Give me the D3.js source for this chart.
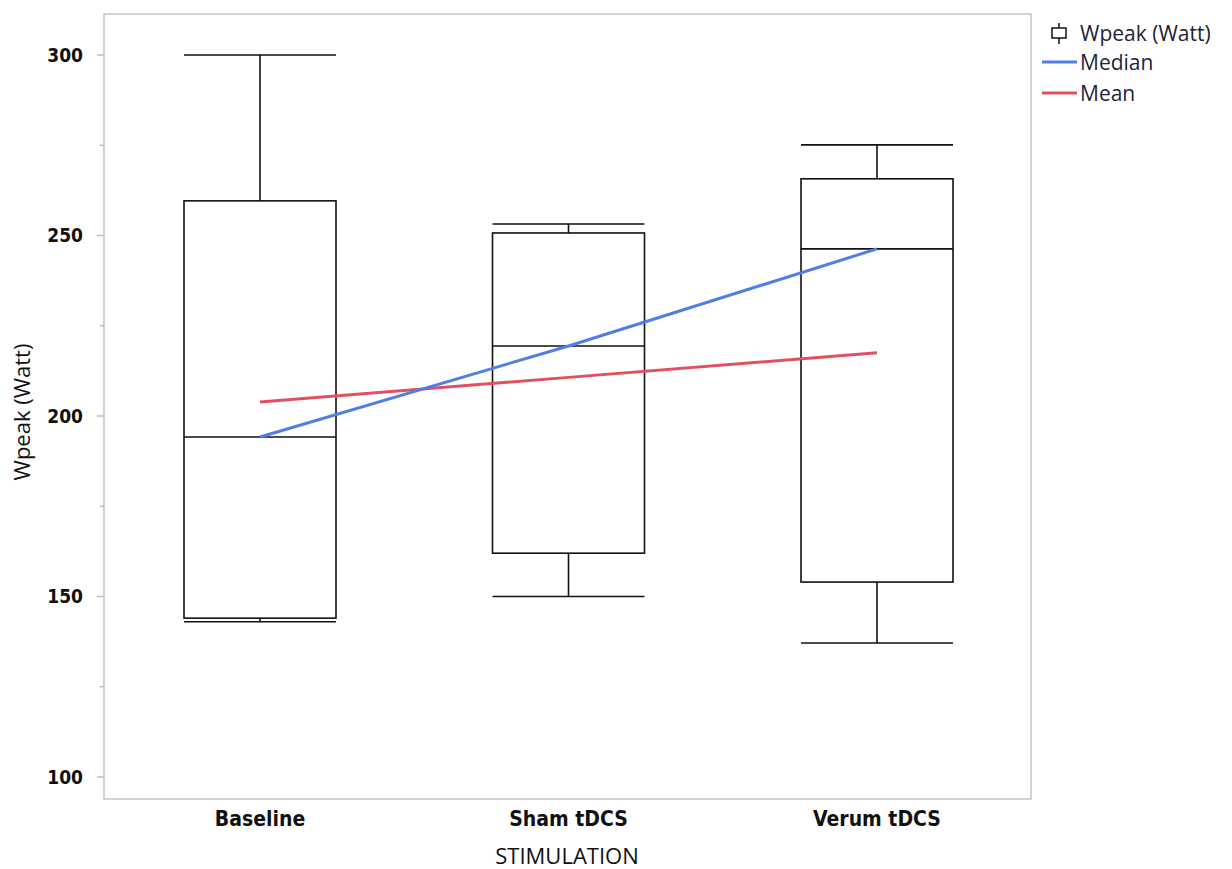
<!DOCTYPE html>
<html><head><meta charset="utf-8">
<script src="https://cdn.jsdelivr.net/npm/d3@7"></script>
<style>body{margin:0;background:#fff}svg{display:block}</style>
</head><body>
<svg id="c" width="1232" height="869"></svg>
<script>
const categories = ["Baseline", "Sham tDCS", "Verum tDCS"];
const whiskerLow  = [143.0, 150.0, 137.1];
const q1          = [144.0, 162.0, 154.0];
const medians     = [194.2, 219.4, 246.3];
const q3          = [259.6, 250.7, 265.7];
const whiskerHigh = [300.0, 253.2, 275.1];
const means       = [203.9, 210.7, 217.5];
const majorTicks  = [100, 150, 200, 250, 300];
const minorTicks  = [125, 175, 225, 275];

const svg = d3.select("#c");
const L = 104, R = 1031, T = 14, B = 799;
const y = d3.scaleLinear().domain([100, 300]).range([777, 55]);
const x = d3.scalePoint().domain(categories).range([260, 877]);
const halfW = 76;
const sans = "'Open Sans', 'Noto Sans', sans-serif";
const cond = "'DejaVu Sans Condensed', 'DejaVu Sans', sans-serif";

// frame
svg.append("rect").attr("x", L).attr("y", T).attr("width", R - L).attr("height", B - T)
  .attr("fill", "none").attr("stroke", "#c4c4c4").attr("stroke-width", 1.5);

// y axis
const ya = svg.append("g");
majorTicks.forEach(v => {
  ya.append("line").attr("x1", L - 7).attr("x2", L).attr("y1", y(v)).attr("y2", y(v))
    .attr("stroke", "#bdbdbd").attr("stroke-width", 1.5);
  ya.append("text").attr("x", 83).attr("y", y(v)).attr("dy", "0.36em").attr("text-anchor", "end")
    .attr("font-family", cond).attr("font-weight", "bold")
    .attr("font-size", 19).attr("fill", "#111").text(v);
});
minorTicks.forEach(v => {
  ya.append("line").attr("x1", L - 4).attr("x2", L).attr("y1", y(v)).attr("y2", y(v))
    .attr("stroke", "#bdbdbd").attr("stroke-width", 1.5);
});

// x labels
categories.forEach(c => {
  svg.append("text").attr("x", x(c)).attr("y", 826).attr("text-anchor", "middle")
    .attr("font-family", cond).attr("font-weight", "bold")
    .attr("font-size", 21).attr("fill", "#111").text(c);
});
svg.append("text").attr("x", 567).attr("y", 864).attr("text-anchor", "middle")
  .attr("font-family", sans).attr("font-size", 22).attr("fill", "#111")
  .text("STIMULATION");
svg.append("text").attr("transform", "translate(30,412) rotate(-90)").attr("text-anchor", "middle")
  .attr("font-family", sans).attr("font-size", 22).attr("fill", "#111")
  .text("Wpeak (Watt)");

// boxes
const g = svg.append("g").attr("stroke", "#111").attr("stroke-width", 1.6).attr("fill", "none");
categories.forEach((c, i) => {
  const cx = x(c);
  g.append("line").attr("x1", cx).attr("x2", cx).attr("y1", y(whiskerHigh[i])).attr("y2", y(q3[i]));
  g.append("line").attr("x1", cx).attr("x2", cx).attr("y1", y(q1[i])).attr("y2", y(whiskerLow[i]));
  g.append("line").attr("x1", cx - halfW).attr("x2", cx + halfW).attr("y1", y(whiskerHigh[i])).attr("y2", y(whiskerHigh[i]));
  g.append("line").attr("x1", cx - halfW).attr("x2", cx + halfW).attr("y1", y(whiskerLow[i])).attr("y2", y(whiskerLow[i]));
  g.append("rect").attr("x", cx - halfW).attr("width", 2 * halfW)
    .attr("y", y(q3[i])).attr("height", y(q1[i]) - y(q3[i]));
  g.append("line").attr("x1", cx - halfW).attr("x2", cx + halfW).attr("y1", y(medians[i])).attr("y2", y(medians[i]));
});

// median & mean lines
const line = d3.line().x((d, i) => x(categories[i])).y(d => y(d));
svg.append("path").attr("d", line(means)).attr("fill", "none").attr("stroke", "#e0505f").attr("stroke-width", 3);
svg.append("path").attr("d", line(medians)).attr("fill", "none").attr("stroke", "#4f7fe6").attr("stroke-width", 3);

// legend
const lg = svg.append("g");
lg.append("line").attr("x1", 1059).attr("x2", 1059).attr("y1", 23).attr("y2", 44).attr("stroke", "#111").attr("stroke-width", 1.5);
lg.append("rect").attr("x", 1052).attr("y", 28).attr("width", 14).attr("height", 10).attr("fill", "#fff").attr("stroke", "#111").attr("stroke-width", 1.5);
lg.append("line").attr("x1", 1042).attr("x2", 1077).attr("y1", 62).attr("y2", 62).attr("stroke", "#4f7fe6").attr("stroke-width", 3);
lg.append("line").attr("x1", 1042).attr("x2", 1077).attr("y1", 93).attr("y2", 93).attr("stroke", "#e0505f").attr("stroke-width", 3);
[["Wpeak (Watt)", 33], ["Median", 62], ["Mean", 93]].forEach(([t, yy]) => {
  lg.append("text").attr("x", 1080).attr("y", yy).attr("dy", "0.36em")
    .attr("font-family", sans).attr("font-size", 21).attr("fill", "#1f1f3a").text(t);
});
</script>
</body></html>
